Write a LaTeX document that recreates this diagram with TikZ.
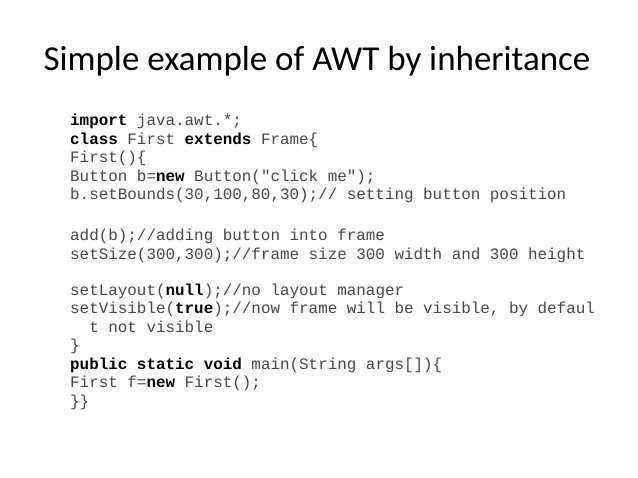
\documentclass[tikz,border=0pt]{standalone}
\usepackage{fontspec}
\setmainfont{Carlito}
\newfontfamily\codefont{Liberation Mono}
\usepackage{tikz}
\usetikzlibrary{positioning}

\newcommand{\kw}[1]{{\bfseries\color{black}#1}}

\tikzset{
  slidetitle/.style={anchor=base, inner sep=0pt, font=\fontsize{35}{42}\selectfont},
  codeline/.style={anchor=base west, inner sep=0pt, text=black!72, font=\codefont\fontsize{15.9}{18.5}\selectfont}
}

\begin{document}
\begin{tikzpicture}[x=1pt,y=-1pt]
  \useasboundingbox[fill=white] (0,0) rectangle (638,478);
  % title
  \node [slidetitle] (title) at (317,70.5) {Simple example of AWT by inheritance};
  % code lines
  \node [codeline] (l1)  at (70,126)   {\kw{import} java.awt.*;};
  \node [codeline] (l2)  at (70,144.5) {\kw{class} First \kw{extends} Frame\{};
  \node [codeline] (l3)  at (70,163)   {First()\{};
  \node [codeline] (l4)  at (70,181.5) {Button b=\kw{new} Button("click me");};
  \node [codeline] (l5)  at (70,200)   {b.setBounds(30,100,80,30);// setting button position};
  \node [codeline] (l6)  at (70,241)   {add(b);//adding button into frame};
  \node [codeline] (l7)  at (70,259.5) {setSize(300,300);//frame size 300 width and 300 height};
  \node [codeline] (l8)  at (70,296)   {setLayout(\kw{null});//no layout manager};
  \node [codeline] (l9)  at (70,314)   {setVisible(\kw{true});//now frame will be visible, by defaul};
  \node [codeline] (l10) at (70,332.5) {\ \ t not visible};
  \node [codeline] (l11) at (70,351)   {\}};
  \node [codeline] (l12) at (70,369.5) {\kw{public static void} main(String args[])\{};
  \node [codeline] (l13) at (70,388)   {First f=\kw{new} First();};
  \node [codeline] (l14) at (70,406.5) {\}\}};
\end{tikzpicture}
\end{document}
